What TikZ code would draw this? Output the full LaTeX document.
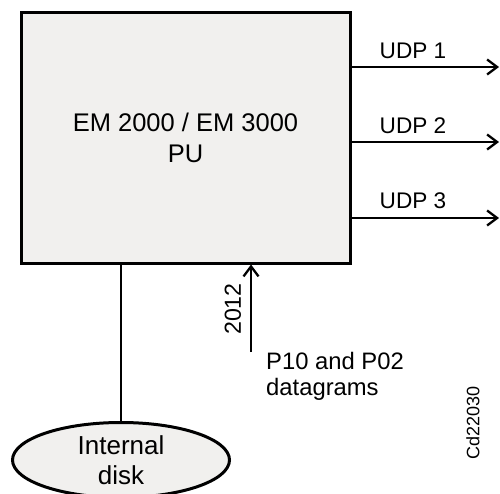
\documentclass[tikz,border=0pt]{standalone}
\usepackage{fontspec}
\setmainfont{Liberation Sans}
\usetikzlibrary{arrows.meta,shapes.geometric}
\definecolor{boxfill}{RGB}{241,240,238}
\tikzset{
  unitbox/.style={draw=black, line width=3pt, fill=boxfill, inner sep=0pt},
  conn/.style={line width=2.3pt, draw=black},
  arr/.style={conn, -{Straight Barb[length=10pt,width=15pt,line width=2.3pt]}},
  lbl/.style={inner sep=0pt, font=\fontsize{22.6}{27}\selectfont},
}
\begin{document}
\begin{tikzpicture}[x=1pt,y=-1pt]
\useasboundingbox (0,0) rectangle (500,494);
\node[unitbox, minimum width=329pt, minimum height=250pt, align=center,
      font=\fontsize{25.5}{31}\selectfont] (pu) at (185.5,138) {EM 2000 / EM 3000\\PU};
\node[unitbox, ellipse, minimum width=217pt, minimum height=75pt, align=center,
      font=\fontsize{26}{30}\selectfont] (disk) at (121,460) {Internal\\disk};
\coordinate (u1) at (499,67);
\coordinate (u2) at (499,142);
\coordinate (u3) at (499,218);
\draw[arr] (pu.east |- u1) -- (u1);
\draw[arr] (pu.east |- u2) -- (u2);
\draw[arr] (pu.east |- u3) -- (u3);
\node[lbl] (l1) at (413,51) {UDP 1};
\node[lbl] (l2) at (413,126) {UDP 2};
\node[lbl] (l3) at (413,201) {UDP 3};
\draw[conn] (pu.south -| disk.north) -- (disk.north);
\coordinate (src) at (251,352);
\draw[arr] (src) -- (src |- pu.south);
\node[lbl, rotate=90, font=\fontsize{23.2}{27}\selectfont] (num) at (233,309) {2012};
\node[lbl, anchor=base west, align=left, font=\fontsize{23.8}{26.4}\selectfont] (dg) at (266,395.7) {P10 and P02\\datagrams};
\node[lbl, rotate=90, font=\fontsize{18}{22}\selectfont] (cd) at (473,423) {Cd22030};
\end{tikzpicture}
\end{document}
